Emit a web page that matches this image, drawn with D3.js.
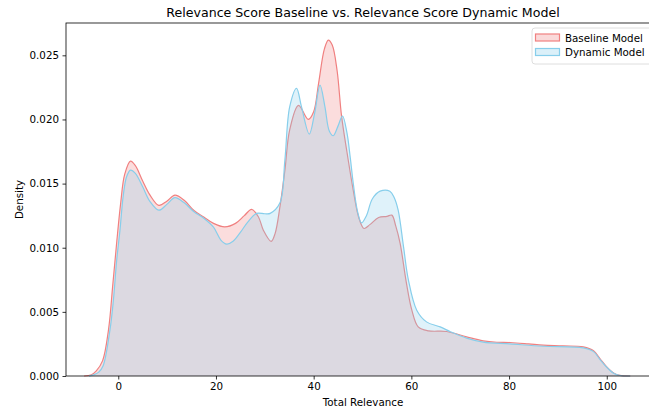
<!DOCTYPE html>
<html>
<head>
<meta charset="utf-8">
<script src="https://cdn.jsdelivr.net/npm/d3@7"></script>
<style>
  body { margin: 0; background: #fff; }
  svg { display: block; font-family: "DejaVu Sans", sans-serif; }
</style>
</head>
<body>
<div id="chart"></div>
<script>
// KDE curves (x = total relevance, y = density)
const baselineX = [-7, -5.5, -4.5, -3.2, -2, -1.1, -0.3, 0.5, 1.3, 2.5, 3.5, 5, 6.5, 8.3, 10, 11.6, 13.5, 15.5, 17.5, 19.5,
    21.8, 24, 25.8, 27.3, 28.7, 29.7, 31.3, 32.1, 33.1, 34.1, 35.1, 36.9, 38.9, 40, 41, 42.2, 43, 43.8, 44.8, 45.7, 46.8,
    48.1, 49.2, 50.3, 51.5, 53.3, 55, 56, 56.8, 57.7, 59, 60.1, 61.4, 63.5, 67.2, 71.3, 74.7, 77.5, 80.2, 84, 87, 91,
    95.2, 97.3, 98.6, 100, 101.4, 102.7, 104.8];
const baselineY = [0, 0.0001, 0.0004, 0.0012, 0.0036, 0.0072, 0.0105, 0.0135, 0.0157, 0.01675, 0.0164, 0.0152, 0.0141,
    0.0133, 0.01365, 0.0141, 0.0137, 0.0129, 0.0124, 0.0119, 0.01163, 0.0119, 0.0125, 0.01299, 0.0124, 0.01137, 0.0105,
    0.0111, 0.0132, 0.0160, 0.0192, 0.0211, 0.0200, 0.0206, 0.0228, 0.0255, 0.02619, 0.0258, 0.0238, 0.0203, 0.0175,
    0.01449, 0.0124, 0.0115, 0.0118, 0.01236, 0.01245, 0.01254, 0.0117, 0.01034, 0.00722, 0.00513, 0.00383, 0.00352,
    0.00347, 0.00305, 0.00274, 0.00263, 0.00261, 0.0025, 0.0024, 0.00235, 0.00227, 0.00196, 0.00136, 0.00071, 0.00024,
    0.00005, 0];

const dynamicX = [-6, -5, -4, -3.1, -1.7, -1, -0.33, 0.35, 1, 1.7, 2.5, 3.5, 5, 6.5, 8.3, 10, 11.6, 13.5, 15.5, 17.5,
    19.5, 21, 22.2, 23.5, 25, 26.5, 28.3, 30, 31.1, 33.1, 34.1, 35.1, 36.5, 37.5, 39.1, 40.2, 41.3, 42.3, 43.2, 44,
    45, 45.9, 46.8, 47.5, 48.1, 49, 49.8, 50.8, 52, 53.6, 55.6, 56.5, 57.3, 58.4, 59.4, 61.1, 63.1, 65.9, 68, 71.3, 74.7,
    80.2, 87, 95.2, 97.3, 98.6, 100, 101.4, 102.7, 104.8];
const dynamicY = [0, 0.0001, 0.0003, 0.0008, 0.0036, 0.0059, 0.009, 0.01137, 0.0140, 0.01553, 0.01605, 0.0158, 0.01475,
    0.0136, 0.01293, 0.0134, 0.0139, 0.0135, 0.0128, 0.0123, 0.0116, 0.0106, 0.01028, 0.0105, 0.0112, 0.0120, 0.01268,
    0.01265, 0.01268, 0.0135, 0.0168, 0.0210, 0.02243, 0.0210, 0.01886, 0.0205, 0.02268, 0.0210, 0.0191, 0.01873,
    0.0195, 0.02027, 0.0190, 0.0170, 0.01504, 0.0128, 0.01194, 0.0125, 0.0138, 0.01441, 0.01441, 0.0139, 0.01293,
    0.01007, 0.00747, 0.00513, 0.00422, 0.00383, 0.00345, 0.00295, 0.00264, 0.0025, 0.00232, 0.00219, 0.0019, 0.0013,
    0.00068, 0.00022, 0.00004, 0];

const xTicks = [0, 20, 40, 60, 80, 100];
const yTicks = [0, 0.005, 0.01, 0.015, 0.02, 0.025];
const seriesNames = ["Baseline Model", "Dynamic Model"];
const seriesColors = ["#f08080", "#87ceeb"];

const width = 649, height = 410;
const margin = { top: 23, left: 66 };
const plotRight = 660, plotBottom = 376;

const svg = d3.select("#chart").append("svg")
    .attr("width", width)
    .attr("height", height);

const x = d3.scaleLinear().domain([-10.7, 110.9]).range([margin.left, plotRight]);
const y = d3.scaleLinear().domain([0, 0.02752]).range([plotBottom, margin.top]);

const series = [
    baselineX.map((v, i) => [v, baselineY[i]]),
    dynamicX.map((v, i) => [v, dynamicY[i]])
];

const area = d3.area()
    .x(d => x(d[0]))
    .y0(y(0))
    .y1(d => y(d[1]))
    .curve(d3.curveCatmullRom.alpha(0.5));

const line = d3.line()
    .x(d => x(d[0]))
    .y(d => y(d[1]))
    .curve(d3.curveCatmullRom.alpha(0.5));

series.forEach((pts, i) => {
    svg.append("path")
        .datum(pts)
        .attr("d", area)
        .attr("fill", seriesColors[i])
        .attr("fill-opacity", 0.27);
    svg.append("path")
        .datum(pts)
        .attr("d", line)
        .attr("fill", "none")
        .attr("stroke", seriesColors[i])
        .attr("stroke-width", 1.2);
});

// axes
const xAxis = svg.append("g")
    .attr("transform", `translate(0,${plotBottom})`)
    .call(d3.axisBottom(x).tickValues(xTicks).tickSize(3.5).tickPadding(3.5).tickFormat(d3.format("d")));
const yAxis = svg.append("g")
    .attr("transform", `translate(${margin.left},0)`)
    .call(d3.axisLeft(y).tickValues(yTicks).tickSize(3.5).tickPadding(3.5).tickFormat(d3.format(".3f")));

[xAxis, yAxis].forEach(g => {
    g.select(".domain").remove();
    g.selectAll("line").attr("stroke", "#000").attr("stroke-width", 0.8);
    g.selectAll("text").attr("font-size", 10.3).attr("fill", "#000")
        .attr("font-family", "DejaVu Sans, sans-serif");
});

// spines
svg.append("rect")
    .attr("x", margin.left).attr("y", margin.top)
    .attr("width", plotRight - margin.left).attr("height", plotBottom - margin.top)
    .attr("fill", "none").attr("stroke", "#000").attr("stroke-width", 0.8);

// labels
svg.append("text")
    .attr("x", (margin.left + plotRight) / 2).attr("y", 17)
    .attr("text-anchor", "middle").attr("font-size", 12.6)
    .text("Relevance Score Baseline vs. Relevance Score Dynamic Model");
svg.append("text")
    .attr("x", (margin.left + plotRight) / 2).attr("y", 406)
    .attr("text-anchor", "middle").attr("font-size", 10.3)
    .text("Total Relevance");
svg.append("text")
    .attr("transform", `translate(23,${(margin.top + plotBottom) / 2}) rotate(-90)`)
    .attr("text-anchor", "middle").attr("font-size", 10.3)
    .text("Density");

// legend
const legend = svg.append("g").attr("transform", "translate(532,28)");
legend.append("rect")
    .attr("width", 124).attr("height", 36).attr("rx", 3)
    .attr("fill", "#fff").attr("fill-opacity", 0.8)
    .attr("stroke", "#d6d6d6").attr("stroke-width", 0.8);
seriesNames.forEach((name, i) => {
    const row = legend.append("g").attr("transform", `translate(0,${6 + i * 14.5})`);
    row.append("rect")
        .attr("x", 3.5).attr("y", 0).attr("width", 24).attr("height", 7)
        .attr("fill", seriesColors[i]).attr("fill-opacity", 0.3)
        .attr("stroke", seriesColors[i]).attr("stroke-width", 1.2);
    row.append("text")
        .attr("x", 33).attr("y", 7.5)
        .attr("font-size", 10.3)
        .text(name);
});
</script>
</body>
</html>
